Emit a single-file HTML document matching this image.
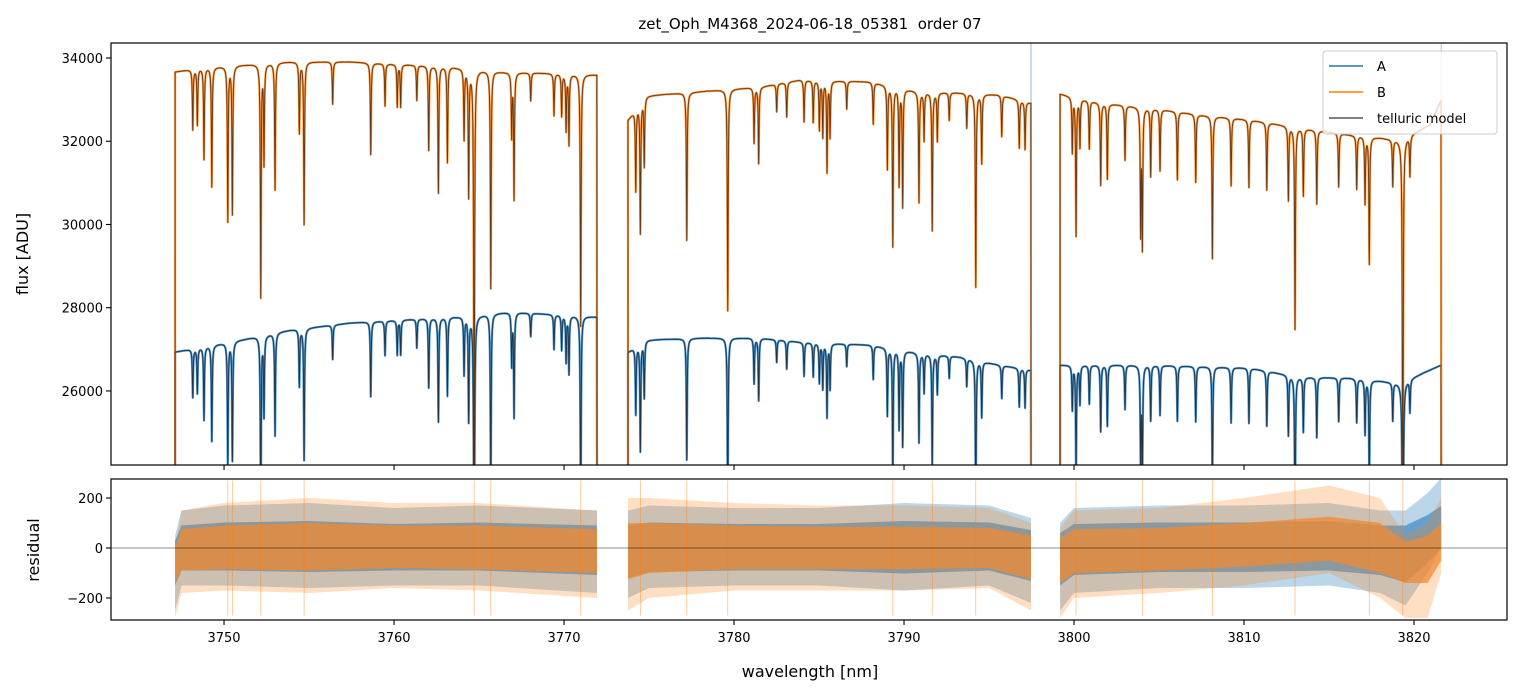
<!DOCTYPE html>
<html><head><meta charset="utf-8"><style>
html,body{margin:0;padding:0;background:#fff;width:1520px;height:696px;overflow:hidden;}
svg{display:block;font-family:"DejaVu Sans","Liberation Sans",sans-serif;}
</style></head><body>
<svg id="chart" width="1520" height="696" viewBox="0 0 1520 696">
<rect x="0" y="0" width="1520" height="696" fill="#fff"/>
<text x="810" y="29" text-anchor="middle" font-size="15" fill="#000">zet_Oph_M4368_2024-06-18_05381&#160; order 07</text>
<g id="topPanel"></g>
<g id="botPanel"></g>
<text x="0" y="0" transform="translate(28,254) rotate(-90)" text-anchor="middle" font-size="16">flux [ADU]</text>
<text x="0" y="0" transform="translate(39,550) rotate(-90)" text-anchor="middle" font-size="16">residual</text>
<text x="810" y="677" text-anchor="middle" font-size="16">wavelength [nm]</text>
<g>
<rect x="1323" y="51" width="174" height="83" rx="3" fill="#fff" fill-opacity="0.8" stroke="#ccc"/>
<line x1="1329" y1="66" x2="1363" y2="66" stroke="#1f77b4" stroke-width="1.5"/>
<text x="1377" y="71" font-size="13">A</text>
<line x1="1329" y1="92" x2="1363" y2="92" stroke="#ff7f0e" stroke-width="1.5"/>
<text x="1377" y="97" font-size="13">B</text>
<line x1="1329" y1="118" x2="1363" y2="118" stroke="#555" stroke-width="1.5"/>
<text x="1377" y="123" font-size="13">telluric model</text>
</g>
</svg>
<script>
const segStart = [3747.12, 3773.76, 3799.18];
const segEnd = [3771.94, 3797.47, 3821.6];
const contWlB = [3747.12,3748.59,3753.88,3757.41,3763.29,3766.24,3771.94, 3773.76,3774.76,3781.53,3783.88,3788.0,3790.94,3793.29,3795.65,3797.47, 3799.18,3801.53,3804.47,3807.41,3810.35,3813.29,3816.24,3819.18,3820.94,3821.6];
const contFluxB = [33663,33760,33904,33904,33784,33663,33591, 32510,33086,33303,33471,33423,33183,33159,33110,32918, 33135,32918,32798,32630,32510,32317,32149,32029,32389,32990];
const contWlA = [3747.12,3750.94,3753.88,3757.41,3760.35,3764.47,3766.82,3771.94, 3773.76,3774.76,3778.0,3781.53,3783.88,3788.0,3790.94,3793.29,3795.65,3797.47, 3799.18,3804.47,3810.35,3813.29,3816.24,3819.18,3820.94,3821.6];
const contFluxA = [26933,27221,27461,27630,27702,27798,27894,27774, 26933,27221,27269,27269,27173,27100,26908,26812,26620,26500, 26620,26620,26548,26331,26307,26187,26500,26620];
const lineWl = [3748.16,3748.43,3748.82,3749.28,3750.22,3750.49,3752.16,3752.35,3753.00,3754.43,3754.71,3756.39,3758.63,3759.47,3760.19,3760.39,3761.34,3762.04,3762.61,3763.14,3764.12,3764.39,3764.71,3765.69,3766.92,3767.06,3768.04,3769.41,3769.86,3770.12,3770.29,3770.98,
3774.22,3774.49,3774.72,3777.22,3779.63,3781.18,3781.45,3782.51,3783.10,3784.12,3784.66,3785.02,3785.22,3785.47,3785.65,3786.63,3788.19,3789.02,3789.34,3789.71,3789.92,3790.88,3791.18,3791.66,3791.96,3792.66,3793.69,3794.22,3794.57,3795.75,3796.78,3797.12,
3799.90,3800.12,3800.35,3800.90,3801.57,3801.96,3803.00,3803.92,3804.02,3804.51,3805.06,3806.08,3807.16,3808.14,3809.24,3810.29,3811.34,3812.61,3813.00,3813.49,3814.28,3815.57,3816.63,3817.12,3817.37,3818.75,3819.34,3819.76];
const lineDepth = [0.043,0.04,0.065,0.085,0.11,0.105,0.165,0.07,0.09,0.05,0.115,0.03,0.065,0.03,0.03,0.03,0.025,0.06,0.09,0.068,0.05,0.09,0.32,0.155,0.045,0.09,0.02,0.03,0.03,0.04,0.05,0.18,
0.06,0.095,0.05,0.107,0.16,0.04,0.055,0.02,0.025,0.03,0.03,0.035,0.04,0.065,0.04,0.02,0.03,0.06,0.115,0.07,0.085,0.08,0.035,0.1,0.035,0.02,0.025,0.14,0.05,0.03,0.035,0.035,
0.04,0.1,0.035,0.035,0.06,0.055,0.04,0.09,0.1,0.05,0.045,0.05,0.05,0.105,0.05,0.05,0.05,0.055,0.15,0.05,0.055,0.04,0.04,0.05,0.095,0.035,0.32,0.03];
const resWl  = [3747.12,3747.5,3750,3755,3760,3765,3771.94, 3773.76,3775,3780,3785,3790,3795,3797.47, 3799.18,3800,3805,3810,3815,3818,3819.5,3820.8,3821.6];
const resLoA = [-250,-150,-150,-160,-150,-150,-180, -200,-160,-150,-150,-170,-150,-220, -250,-180,-160,-160,-150,-180,-230,-100,0];
const resHiA = [50,150,170,180,160,170,150, 150,170,160,160,180,170,120, 100,160,170,170,180,150,150,220,280];
const resLoB = [-280,-180,-170,-180,-160,-170,-200, -250,-200,-170,-170,-170,-160,-250, -280,-200,-180,-150,-100,-200,-280,-280,-100];
const resHiB = [0,150,180,200,180,180,150, 200,200,180,170,170,160,100, 80,150,160,200,250,200,50,100,200];
const xTicks = [3750,3760,3770,3780,3790,3800,3810,3820];
const yTicks = [26000,28000,30000,32000,34000];
const rTicks = [-200,0,200];

const NS="http://www.w3.org/2000/svg";
const L=111,R=1507,T1=43,B1=465,T2=479,B2=620;
const X0=3743.35,X1=3825.47,Y0=24221,Y1=34360,RY0=-288,RY1=276;
const sx=w=>L+(w-X0)/(X1-X0)*(R-L);
const sy=f=>B1-(f-Y0)/(Y1-Y0)*(B1-T1);
const sr=r=>B2-(r-RY0)/(RY1-RY0)*(B2-T2);
function mk(tag,attrs,parent){const e=document.createElementNS(NS,tag);for(const k in attrs)e.setAttribute(k,attrs[k]);parent.appendChild(e);return e;}
const topG=document.getElementById('topPanel'),botG=document.getElementById('botPanel');

function segIdx(w){for(let s=0;s<3;s++)if(w>=segStart[s]-1e-6&&w<=segEnd[s]+1e-6)return s;return -1;}
function interp(ws,vs,w,s){let px=null,pv=null;for(let i=0;i<ws.length;i++){if(segIdx(ws[i])!==s)continue;if(ws[i]>=w){if(px===null)return vs[i];return pv+(vs[i]-pv)*(w-px)/(ws[i]-px);}px=ws[i];pv=vs[i];}return pv;}
function trans(w){let t=1;for(let i=0;i<lineWl.length;i++){const d=(w-lineWl[i])/0.028;if(Math.abs(d)<40)t*=1-lineDepth[i]/(1+d*d);}return t;}

const defs=mk('defs',{},topG);
const clip=mk('clipPath',{id:'c1'},defs);
mk('rect',{x:L,y:T1,width:R-L,height:B1-T1},clip);
const clip2=mk('clipPath',{id:'c2'},defs);
mk('rect',{x:L,y:T2,width:R-L,height:B2-T2},clip2);
const g1=mk('g',{'clip-path':'url(#c1)'},topG);
const g2=mk('g',{'clip-path':'url(#c2)'},botG);

function spectrum(cw,cf,color,width,op,name){
  for(let s=0;s<3;s++){
    let d='M'+sx(segStart[s]).toFixed(1)+','+(B1+5);
    for(let w=segStart[s];w<=segEnd[s];w+=0.01){d+='L'+sx(w).toFixed(2)+','+sy(interp(cw,cf,w,s)*trans(w)).toFixed(2);}
    d+='L'+sx(segEnd[s]).toFixed(1)+','+(B1+5);
    const p=mk('path',{d:d,fill:'none',stroke:color,'stroke-width':width,'stroke-opacity':op,'stroke-linejoin':'round'},g1);
    
    
  }
}
spectrum(contWlA,contFluxA,'#3a8ac4',2.2,0.9,'spectrum-a');
spectrum(contWlB,contFluxB,'#ff8c2a',2.2,0.9,'spectrum-b');
spectrum(contWlA,contFluxA,'#1b2e40',0.9,0.95,'model-a');
spectrum(contWlB,contFluxB,'#5a3414',0.9,0.95,'model-b');
const vl1=mk('line',{x1:sx(segEnd[1]),y1:T1,x2:sx(segEnd[1]),y2:B1,stroke:'#1f77b4','stroke-opacity':0.5,'stroke-width':1},g1);


const vl2=mk('line',{x1:sx(segEnd[2]),y1:T1,x2:sx(segEnd[2]),y2:B1,stroke:'#ff7f0e','stroke-opacity':0.6,'stroke-width':1},g1);



function band(lo,hi,color,op,scale,name){
  for(let s=0;s<3;s++){
    const idx=[];for(let i=0;i<resWl.length;i++)if(segIdx(resWl[i])===s)idx.push(i);
    let d='';idx.forEach((i,k)=>{d+=(k?'L':'M')+sx(resWl[i]).toFixed(1)+','+sr(hi[i]*scale).toFixed(1);});
    idx.slice().reverse().forEach(i=>{d+='L'+sx(resWl[i]).toFixed(1)+','+sr(lo[i]*scale).toFixed(1);});
    d+='Z';
    const p=mk('path',{d:d,fill:color,'fill-opacity':op,stroke:'none'},g2);
    
    
  }
}
band(resLoA,resHiA,'#1f77b4',0.3,1,'residual-a-outer');
band(resLoA,resHiA,'#1f77b4',0.55,0.6,'residual-a-core');
band(resLoB,resHiB,'#ff7f0e',0.25,1,'residual-b-outer');
band(resLoB,resHiB,'#f08a30',0.75,0.5,'residual-b-core');
lineWl.forEach((w,i)=>{ if(lineDepth[i]>0.09){
  const sp=mk('line',{x1:sx(w),y1:sr(270),x2:sx(w),y2:sr(-270),stroke:'#ff7f0e','stroke-width':0.8,'stroke-opacity':0.5},g2);
  
  
}});
const zl=mk('line',{x1:L,y1:sr(0),x2:R,y2:sr(0),stroke:'#000','stroke-opacity':0.6,'stroke-width':0.8},botG);



[[T1,B1,topG,'flux-axes-frame'],[T2,B2,botG,'residual-axes-frame']].forEach(a=>{
  const r=mk('rect',{x:L,y:a[0],width:R-L,height:a[1]-a[0],fill:'none',stroke:'#000','stroke-width':1.2},a[2]);
  
  
});
xTicks.forEach(v=>{
  const x=sx(v);
  const t1=mk('line',{x1:x,y1:B1,x2:x,y2:B1+5,stroke:'#000','stroke-width':1.1},topG);
  
  
  const t2=mk('line',{x1:x,y1:B2,x2:x,y2:B2+5,stroke:'#000','stroke-width':1.1},botG);
  
  
  const tx=mk('text',{x:x,y:B2+22,'text-anchor':'middle','font-size':13},botG);
  tx.textContent=v;
  
  
});
yTicks.forEach(v=>{
  const y=sy(v);
  const t=mk('line',{x1:L-5,y1:y,x2:L,y2:y,stroke:'#000','stroke-width':1.1},topG);
  
  
  const tx=mk('text',{x:L-8,y:y+5,'text-anchor':'end','font-size':13},topG);
  tx.textContent=v;
  
  
});
rTicks.forEach(v=>{
  const y=sr(v);
  const t=mk('line',{x1:L-5,y1:y,x2:L,y2:y,stroke:'#000','stroke-width':1.1},botG);
  
  
  const tx=mk('text',{x:L-8,y:y+5,'text-anchor':'end','font-size':13},botG);
  tx.textContent=v<0?'\u2212'+(-v):v;
  
  
});
</script>
</body></html>
